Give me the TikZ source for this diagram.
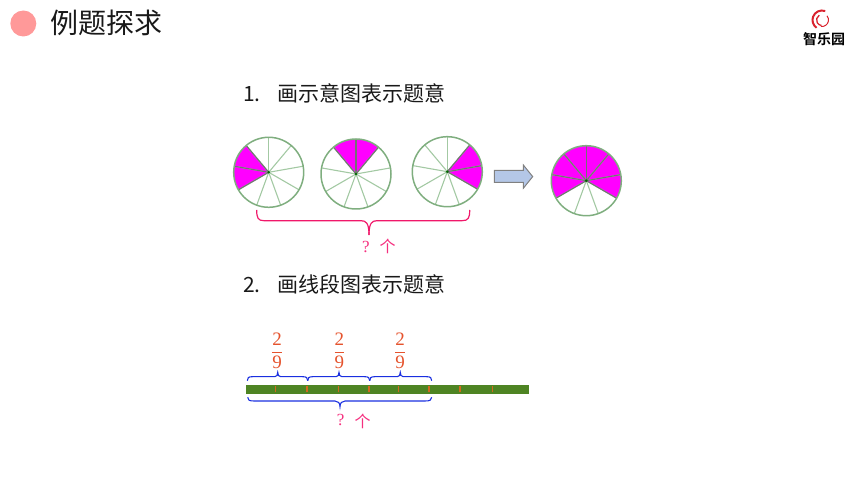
\documentclass[tikz,border=0pt]{standalone}
\usepackage{amsmath}
\usepackage{fontspec}
\newfontfamily\cjk{Noto Sans CJK SC}
\newfontfamily\cjkbold{Noto Sans CJK SC Bold}
\newfontfamily\digitfont{Liberation Serif}
\definecolor{ringgreen}{HTML}{7FAE7F}
\definecolor{spokegreen}{HTML}{A3C9A3}
\definecolor{piepink}{HTML}{FF00FF}
\definecolor{bracered}{HTML}{F0186A}
\definecolor{qpink}{HTML}{F5307F}
\definecolor{barblue}{HTML}{1A2FE0}
\definecolor{fracred}{HTML}{E5532D}
\definecolor{bargreen}{HTML}{4E8423}
\definecolor{tickorange}{HTML}{D2691E}
\definecolor{arrowblue}{HTML}{B4C7E7}
\definecolor{logored}{HTML}{D9232E}
\tikzset{
  every node/.style={inner sep=0pt},
  step text/.style={anchor=west,font=\cjk\fontsize{21}{21}\selectfont,text=black!90},
  ask text/.style={font=\digitfont\fontsize{17}{17}\selectfont,text=qpink},
  frac text/.style={font=\digitfont\fontsize{19}{19}\selectfont,text=fracred},
}
% one wheel of nine parts: centre x, centre y, first, second, last angle of the pink part
\newcommand{\wheel}[5]{
\begin{scope}[shift={(#1,#2)}]
\fill [piepink] (0,0) -- (#3:35pt) arc [start angle=#3,end angle=#5,radius=35pt] -- cycle;
\foreach \a in {10,50,...,330} \draw [spokegreen,line width=1.1pt] (0,0) -- (\a:35pt);
\foreach \a in {#3,#4,...,#5} \draw [black!55,line width=1.1pt] (0,0) -- (\a:35pt);
\draw [ringgreen,line width=1.5pt] (0,0) circle (35pt);
\fill [green!40!black] (0,0) circle (1.4pt);
\end{scope}
}
\begin{document}
\begin{tikzpicture}[x=1pt,y=1pt]
\useasboundingbox (0,0) rectangle (860,484);
% heading
\fill [red!40] (23.3,460.5) circle (13);
\node [anchor=west,font=\cjk\fontsize{28}{28}\selectfont,text=black!90] (title) at (50,461) {例题探求};
% logo
\draw [logored,line width=2pt] (822,464) ++(70:9.5) arc [start angle=70,end angle=235,radius=9.5pt];
\draw [logored,line width=1.3pt] (822,464) ++(120:5.5) arc [start angle=120,end angle=265,radius=5.5pt];
\draw [logored,line width=1pt] (822,464) ++(-100:6.5) arc [start angle=-100,end angle=40,radius=6.5pt];
\node [font=\cjkbold\fontsize{14}{14}\selectfont] (logo) at (824,445) {智乐园};
% step 1
\node [step text] (first) at (243,391) {\makebox[34pt][l]{1.}画示意图表示题意};
\wheel{268.7}{311.7}{130}{170}{210}
\wheel{356}{310}{50}{90}{130}
\wheel{447.3}{312.3}{-30}{10}{50}
\wheel{586.3}{303.3}{-30}{10}{210}
% block arrow
\draw [black!50,fill=arrowblue,line width=1pt] (494.3,313.7) -- (523.3,313.7) -- (523.3,319) -- (532.7,307.4) -- (523.3,295.7) -- (523.3,301.7) -- (494.3,301.7) -- cycle;
\draw [bracered,line width=1.2pt] (256.7,274) .. controls (256.7,266) and (258,263.3) .. (264,263.3) -- (361,263.3) .. controls (366,263.3) and (369,261) .. (369,249);
\draw [bracered,line width=1.2pt] (469.7,274) .. controls (469.7,266) and (468.4,263.3) .. (462,263.3) -- (377,263.3) .. controls (372,263.3) and (369,261) .. (369,249);
\node [ask text] (askq) at (366,237.5) {?};
\node [ask text,font=\cjk\fontsize{16}{16}\selectfont] (askge) at (387.7,238) {个};
% step 2
\node [step text] (second) at (243,200) {\makebox[34pt][l]{2.}画线段图表示题意};
\foreach \x/\n in {277/one,339.3/two,400/three}
  \node [frac text] (frac\n) at (\x,133) {$\dfrac{\text{\digitfont 2}}{\text{\digitfont 9}}$};
\fill [bargreen] (246,90) rectangle (529,99);
\foreach \x in {275.3,307,338.7,369,398.7,429,460,492.7}
  \draw [tickorange,line width=1.4pt] (\x,91.5) -- (\x,98);
\foreach \a/\b/\c in {247.3/277.7/307.7,307.7/339/369.7,369.7/400.3/431.7}
  \draw [barblue,line width=1.1pt] (\a,103.3) .. controls (\a,106) and (\a+1,107.3) .. (\a+5,107.3) -- (\b-3,107.3) .. controls (\b-1,107.3) and (\b,109) .. (\b,111.7) .. controls (\b,109) and (\b+1,107.3) .. (\b+3,107.3) -- (\c-5,107.3) .. controls (\c-1,107.3) and (\c,106) .. (\c,103.3);
\draw [barblue,line width=1.1pt] (247.7,86.7) .. controls (247.7,84) and (249,83) .. (254,83) -- (335,83) .. controls (338,83) and (340,81) .. (340,77.3) .. controls (340,81) and (342,83) .. (345,83) -- (425,83) .. controls (430,83) and (431.7,84) .. (431.7,86.7);
\node [ask text] (lineq) at (340.7,64) {?};
\node [ask text,font=\cjk\fontsize{16}{16}\selectfont] (linege) at (362.7,63) {个};
\end{tikzpicture}
\end{document}
